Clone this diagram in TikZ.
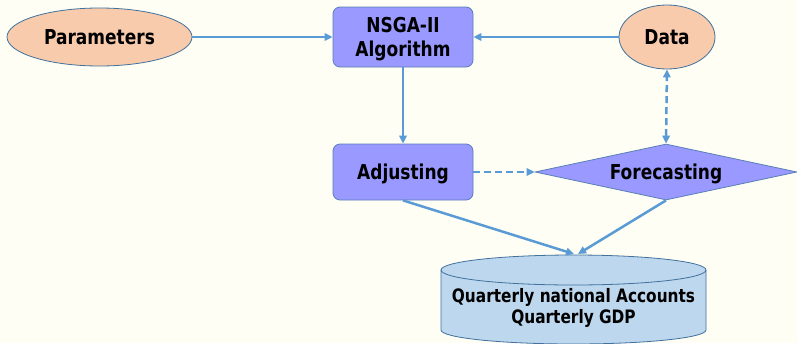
\documentclass[tikz,border=0pt]{standalone}
\usepackage{fontspec}
\setmainfont[FakeStretch=0.83]{DejaVu Sans}
\usetikzlibrary{shapes.geometric,arrows.meta}
\definecolor{bgc}{HTML}{FEFEF4}
\definecolor{peach}{HTML}{F8CBAD}
\definecolor{edgec}{HTML}{41719C}
\definecolor{boxc}{HTML}{9999FF}
\definecolor{boxedge}{HTML}{5A7FB5}
\definecolor{cylc}{HTML}{BDD7EE}
\definecolor{arr}{HTML}{5B9BD5}
\begin{document}
\begin{tikzpicture}[x=1pt,y=-1pt,
  lbl/.style={font=\bfseries\fontsize{20.5}{24}\selectfont, align=center, text=black},
  oval/.style={ellipse, draw=edgec, fill=peach, line width=0.8pt, inner sep=0pt, lbl},
  rbox/.style={rectangle, rounded corners=7pt, draw=boxedge, fill=boxc, line width=0.8pt, minimum width=140pt, minimum height=58pt, lbl},
  dia/.style={diamond, draw=boxedge, fill=boxc, line width=0.8pt, minimum width=262pt, minimum height=56pt, aspect=4.7, inner sep=0pt, lbl},
  conn/.style={draw=arr, line width=2.5pt, -{Triangle[length=8pt,width=7.5pt]}},
  dconn/.style={conn, dash pattern=on 7pt off 4pt}
]
\useasboundingbox (0,0) rectangle (797,343);
\fill[bgc] (0,0) rectangle (797,343);
\node[oval, minimum width=185pt, minimum height=58pt] (par) at (99.5,37) {Parameters};
\node[oval, minimum width=96pt, minimum height=64pt] (data) at (667,37) {Data};
\node[rbox, minimum height=60pt] (nsga) at (403,37) {};
\node[lbl, inner sep=0pt] (nsgatext) at (403,39) {NSGA-II\\Algorithm};
\node[rbox, minimum height=56pt, text depth=0pt] (adj) at (403,172) {Adjusting};
\node[dia, text depth=0pt] (fc) at (666,172) {Forecasting};
% cylinder
\fill[cylc, draw=edgec, line width=0.8pt] (441,270) -- (441,330) arc[start angle=180, end angle=360, x radius=132.5pt, y radius=14pt] -- (706,270) arc[start angle=0, end angle=180, x radius=132.5pt, y radius=15pt] -- cycle;
\draw[edgec, line width=0.8pt] (441,270) arc[start angle=180, end angle=360, x radius=132.5pt, y radius=15pt];
\node[lbl, font=\bfseries\fontsize{18.5}{21}\selectfont, inner sep=0pt] (cyl) at (573.5,307.5) {Quarterly national Accounts\\Quarterly GDP};
\coordinate (c1) at (574,254);
\coordinate (c2) at (578,254);
\draw[conn] (par.east) -- (nsga.west |- par.east);
\draw[conn] (data.west) -- (nsga.east |- data.west);
\draw[conn] (nsga.south) -- (adj.north);
\draw[dconn] (adj.east) -- (fc.west);
\draw[dconn, {Triangle[length=8pt,width=7.5pt]}-{Triangle[length=8pt,width=7.5pt]}] (fc.north) -- (data.south);
\draw[conn] (adj.south) -- (c1);
\draw[conn] (fc.south) -- (c2);
\end{tikzpicture}
\end{document}
